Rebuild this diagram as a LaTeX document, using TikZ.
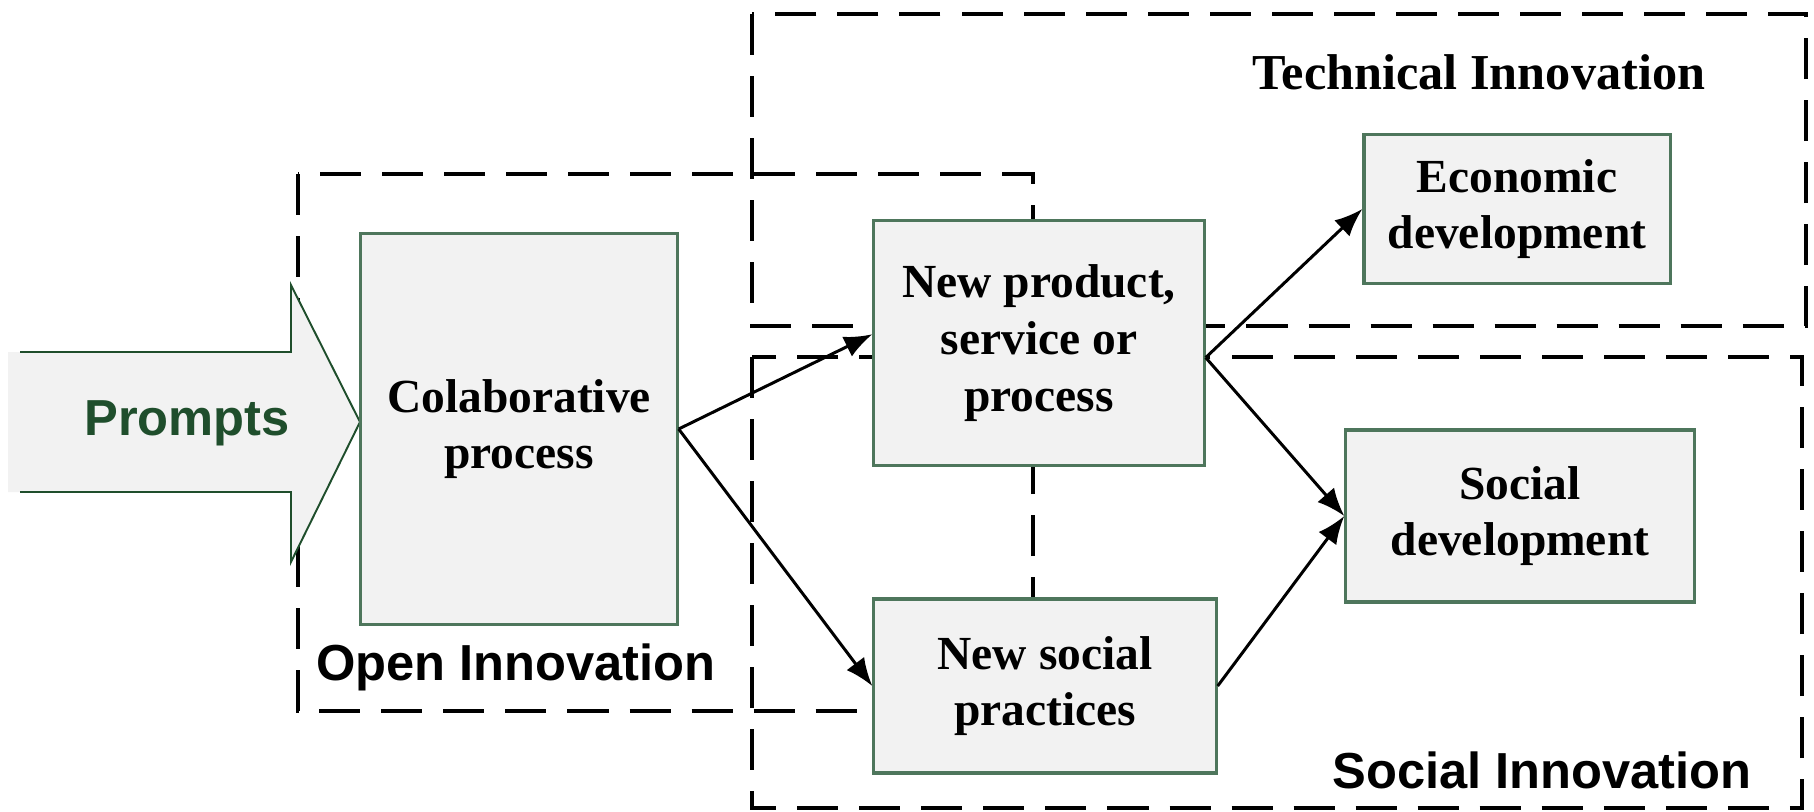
\documentclass[tikz,border=0pt]{standalone}
\usepackage{fontspec}
\setmainfont{Liberation Serif}
\setsansfont{Liberation Sans}
\usetikzlibrary{arrows.meta}
\definecolor{boxgreen}{RGB}{78,118,92}
\definecolor{boxgray}{RGB}{242,242,242}
\definecolor{promptgreen}{RGB}{31,78,44}
\begin{document}
\begin{tikzpicture}
	  [
	    x                       = 0.01cm,
	    y                       = -0.01cm,
	    box/.style              = {draw=boxgreen, fill=boxgray, line width=0.9pt, align=center, inner sep=0pt,
	                               font=\bfseries\fontsize{13.5}{16.1}\selectfont},
	    region/.style           = {draw, line width=0.95pt, dash pattern=on 0.41cm off 0.21cm},
	    link/.style             = {draw, line width=0.85pt, -{Latex[length=0.28cm, width=0.22cm]}},
	    regionlabel/.style      = {inner sep=0pt, font=\sffamily\bfseries\fontsize{14.4}{17}\selectfont},
	    promptline/.style       = {draw=promptgreen, line width=0.55pt}
	  ]
	  \useasboundingbox (0,0) rectangle (1814,812);
	  \draw[region] (298,174) rectangle (1033,711);
	  \draw[region] (752,14) rectangle (1806,326);
	  \draw[region] (752,357) rectangle (1802,808);
	  \fill[boxgray] (8,352) -- (291,352) -- (291,285) -- (360,422) -- (291,562) -- (291,492) -- (8,492) -- cycle;
	  \draw[promptline] (20,352) -- (291,352) -- (291,285) -- (360,422) -- (291,562) -- (291,492) -- (20,492);
	  \node[regionlabel, text=promptgreen] (prompts) at (187,423) {Prompts};
	  \node[box, minimum width=3.16cm, minimum height=3.90cm] (colab) at (519,429) {Colaborative\\process};
	  \node[box, minimum width=3.30cm, minimum height=2.45cm] (np) at (1039,343) {New product,\\service or\\process};
	  \node[box, minimum width=3.42cm, minimum height=1.74cm] (nsp) at (1045,686) {New social\\practices};
	  \node[box, minimum width=3.06cm, minimum height=1.49cm] (econ) at (1517,209) {Economic\\development};
	  \node[box, minimum width=3.48cm, minimum height=1.72cm] (socdev) at (1520,516) {Social\\development};
	  \draw[link] (colab.east) -- (np.177);
	  \draw[link] (colab.east) -- (nsp.west);
	  \draw[link] (np.-5) -- (econ.west);
	  \draw[link] (np.-5) -- (socdev.west);
	  \draw[link] (nsp.east) -- (socdev.west);
	  \node[inner sep=0pt, font=\bfseries\fontsize{14.3}{17}\selectfont] (techlbl) at (1479,72) {Technical Innovation};
	  \node[regionlabel] (openlbl) at (516,667) {Open Innovation};
	  \node[regionlabel] (soclbl) at (1542,770) {Social Innovation};
\end{tikzpicture}
\end{document}
